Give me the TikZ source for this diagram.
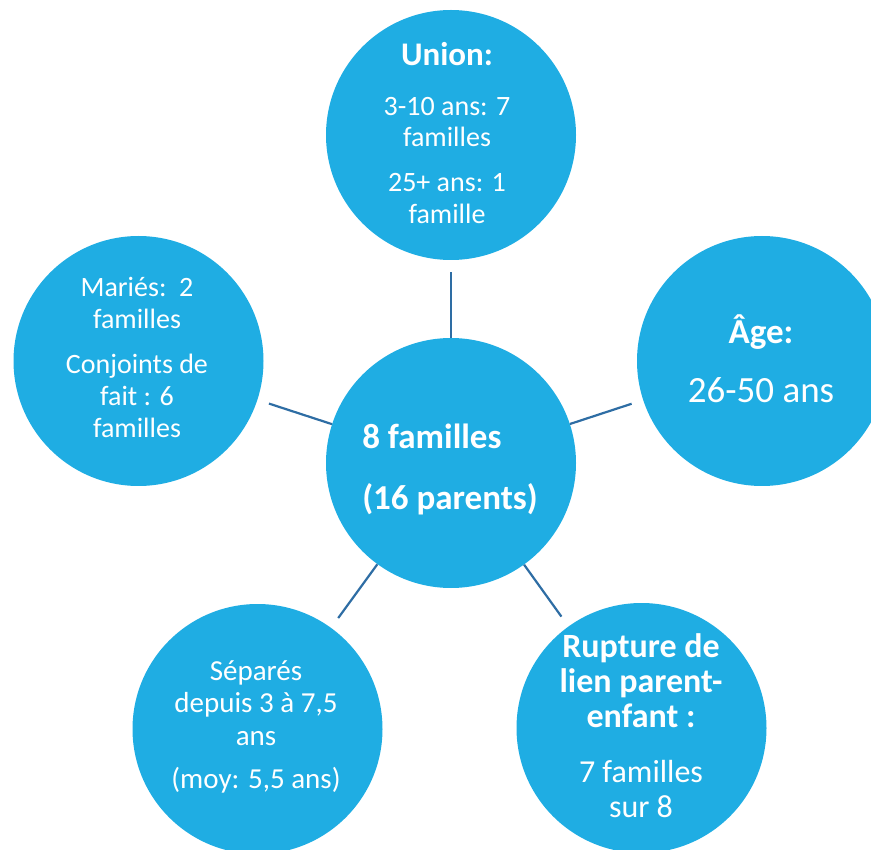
\documentclass[tikz,border=0pt]{standalone}
\usepackage{fontspec}
\setmainfont{Carlito}
\definecolor{bubble}{RGB}{31,173,227}
\definecolor{connc}{RGB}{46,109,164}
\tikzset{
  bub/.style={circle, fill=bubble, draw=none, minimum size=250pt, inner sep=0pt},
  btxt/.style={text=white, align=center, inner sep=0pt, anchor=center},
  conn/.style={draw=connc, line width=2.2pt, shorten <=12pt, shorten >=0pt}
}
\begin{document}
\begin{tikzpicture}[x=1pt,y=-1pt]
\useasboundingbox (0,0) rectangle (871,850);
\clip (0,0) rectangle (871,850);
% bubbles
\node[bub] (top) at (451,135) {};
\node[bub] (left) at (138.5,361) {};
\node[bub] (right) at (762,361) {};
\node[bub] (mid) at (451,463) {};
\node[bub] (bl) at (257.5,729) {};
\node[bub] (br) at (641.5,728) {};
% connectors
\draw[conn] (top) -- (mid);
\draw[conn] (left) -- (mid);
\draw[conn] (right) -- (mid);
\draw[conn] (bl) -- (mid);
\draw[conn] (br) -- (mid);
% texts
\node[btxt, font=\fontsize{28}{31.5}\selectfont] (topT) at (447,133)
  {{\fontsize{33}{31.5}\selectfont\bfseries Union:}\\[18pt]
   3-10 ans: 7\\ familles\\[13.5pt] 25+ ans: 1\\ famille};
\node[btxt, font=\fontsize{28}{32}\selectfont] (leftT) at (137,357)
  {Mariés:\ \ 2\\ familles\\[13pt] Conjoints de\\ fait : 6\\ familles};
\node[btxt, font=\fontsize{37}{37}\selectfont] (rightT) at (761,358.5)
  {{\fontsize{35}{37}\selectfont\bfseries Âge:}\\[22pt] 26-50 ans};
\node[btxt, align=left, font=\fontsize{35}{40}\selectfont\bfseries] (midT) at (450,469)
  {8 familles\\[21pt] (16 parents)};
\node[btxt, font=\fontsize{29}{32.5}\selectfont] (blT) at (256,726.5)
  {Séparés\\ depuis 3 à 7,5\\ ans\\[10.5pt] (moy: 5,5 ans)};
\node[btxt, font=\fontsize{32}{35}\selectfont] (brT) at (641,725.5)
  {{\fontsize{34}{35}\selectfont\bfseries Rupture de}\\
   {\fontsize{34}{35}\selectfont\bfseries lien parent-}\\
   {\fontsize{34}{35}\selectfont\bfseries enfant :}\\[20pt]
   7 familles\\ sur 8};
\end{tikzpicture}
\end{document}
